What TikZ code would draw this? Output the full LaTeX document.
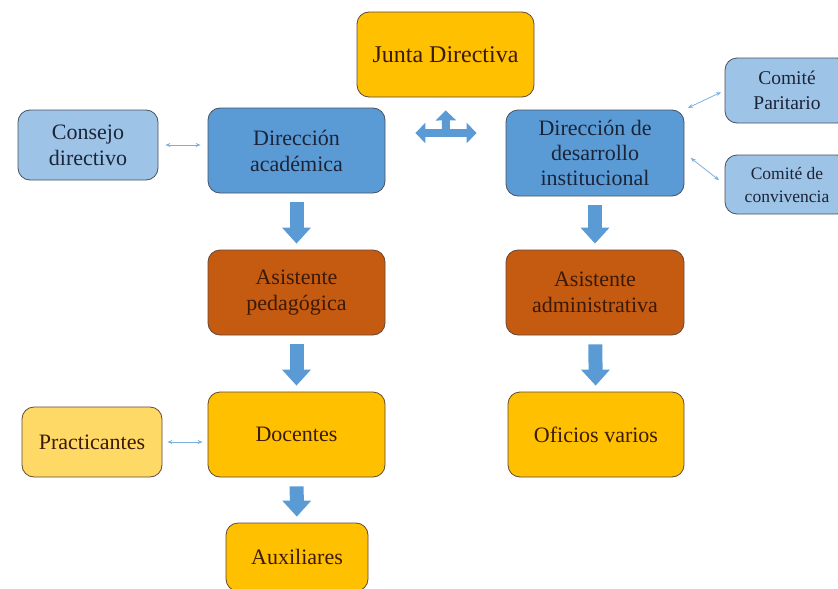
\documentclass[tikz,border=0pt]{standalone}
\usepackage{fontspec}
\setmainfont{LiberationSerif}[Extension=.ttf,UprightFont=*-Regular,BoldFont=*-Bold]
\usetikzlibrary{arrows.meta}
\definecolor{amarillo}{HTML}{FFC000}
\definecolor{amarilloclaro}{HTML}{FFD966}
\definecolor{azul}{HTML}{5B9BD5}
\definecolor{azulclaro}{HTML}{9DC3E6}
\definecolor{cafe}{HTML}{C55A11}
\definecolor{textocafe}{HTML}{3B1A08}
\definecolor{textoazul}{HTML}{1C2439}
\tikzset{
  caja/.style={rounded corners=12pt,line width=0.8pt,align=center,inner sep=0pt,
    font=\fontsize{22}{26}\selectfont},
  cajaY/.style={caja,fill=amarillo,draw=textocafe!80,text=textocafe},
  cajaYc/.style={caja,fill=amarilloclaro,draw=textocafe!80,text=textocafe},
  cajaB/.style={caja,fill=azul,draw=textoazul!80,text=textoazul},
  cajaBc/.style={caja,fill=azulclaro,draw=textoazul!80,text=textoazul},
  cajaC/.style={caja,fill=cafe,draw=textocafe!80,text=textocafe},
  flecha/.style={draw=azul,line width=14pt,-{Triangle[width=28pt,length=16pt]},
    shorten <=9pt,shorten >=6pt},
  tri/.style={draw=azul,line width=8pt},
  fina/.style={draw=azul!80,line width=0.8pt,
    {Stealth[length=5pt,width=4pt]}-{Stealth[length=5pt,width=4pt]}}
}
\begin{document}
\begin{tikzpicture}[x=1pt,y=-1pt]
\useasboundingbox (0,0) rectangle (838,589);
% cajas
\node[cajaY,minimum width=177pt,minimum height=85pt,font=\fontsize{24}{28}\selectfont] (junta) at (445.5,54.5) {Junta Directiva};
\node[cajaBc,minimum width=140pt,minimum height=70pt] (consejo) at (88,145) {Consejo\\directivo};
\node[cajaB,minimum width=177pt,minimum height=85pt] (dirA) at (296.5,150.5) {Dirección\\académica};
\node[cajaB,minimum width=178pt,minimum height=86pt,font=\fontsize{22}{25}\selectfont] (dirD) at (595,153) {Dirección de\\desarrollo\\institucional};
\node[cajaBc,minimum width=124pt,minimum height=65pt,font=\fontsize{19.5}{25}\selectfont] (comP) at (787,90.5) {Comité\\Paritario};
\node[cajaBc,minimum width=124pt,minimum height=59pt,font=\fontsize{17.5}{23}\selectfont] (comC) at (787,184.5) {Comité de\\convivencia};
\node[cajaC,minimum width=177pt,minimum height=85pt] (asisP) at (296.5,292.5) {Asistente\\pedagógica};
\node[cajaC,minimum width=178pt,minimum height=85pt] (asisA) at (595,292.5) {Asistente\\administrativa};
\node[cajaY,minimum width=177pt,minimum height=85pt] (doc) at (296.5,434.5) {Docentes};
\node[cajaY,minimum width=176pt,minimum height=85pt] (ofi) at (596,434.5) {Oficios varios};
\node[cajaYc,minimum width=140pt,minimum height=70pt] (pract) at (92,442) {Practicantes};
\node[cajaY,minimum width=142pt,minimum height=68pt] (aux) at (297,557) {Auxiliares};
% flechas gruesas
\foreach \A/\B in {dirA/asisP,asisP/doc,doc/aux,dirD/asisA,asisA/ofi}{\draw[flecha] (\A) -- (\B);}
% flecha de tres puntas
\coordinate (hub) at (446,133);
\draw[tri,{Triangle[width=20pt,length=10pt]}-{Triangle[width=20pt,length=10pt]},shorten <=30pt,shorten >=29pt] (dirA.east |- hub) -- (dirD.west |- hub);
\draw[tri,-{Triangle[width=20pt,length=10pt]},shorten >=13pt] (hub) -- (junta.south);
% flechas finas
\draw[fina,shorten <=7pt,shorten >=7pt] (consejo.east) -- (consejo.east -| dirA.west);
\draw[fina,shorten <=5pt,shorten >=5pt] (pract.east) -- (pract.east -| doc.west);
\draw[fina,shorten <=4pt,shorten >=4pt] (dirD.north east) -- (comP.west);
\draw[fina,shorten <=8pt,shorten >=7pt] (dirD.east) -- (comC.west);
\end{tikzpicture}
\end{document}
